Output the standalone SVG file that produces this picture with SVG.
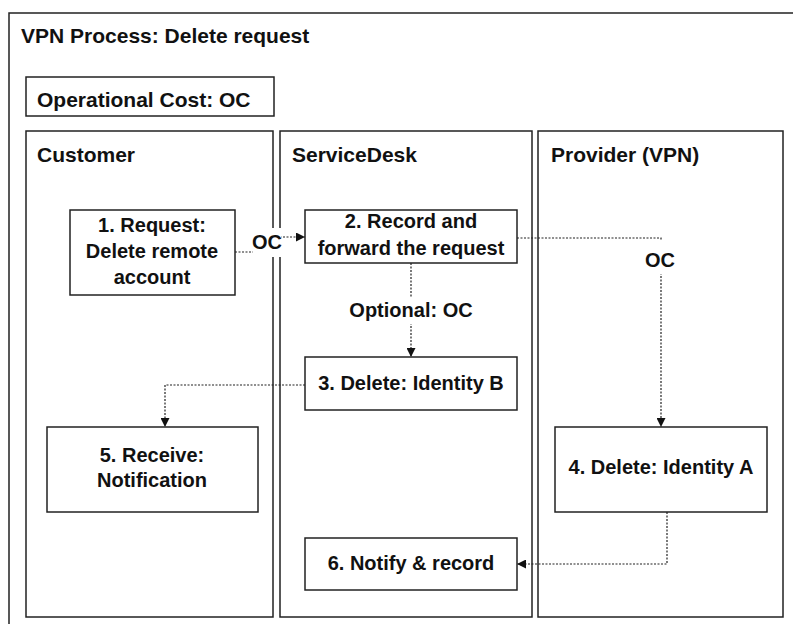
<svg xmlns="http://www.w3.org/2000/svg" width="793" height="624" viewBox="0 0 793 624">
<style>
.frame{fill:none;stroke:#222;stroke-width:1.5}
.box{fill:#fff;stroke:#222;stroke-width:1.5}
.h{font-family:"Liberation Sans",Arial,sans-serif;font-weight:bold;font-size:21px;fill:#111}
.t{font-family:"Liberation Sans",Arial,sans-serif;font-weight:bold;font-size:20px;fill:#111;text-anchor:middle}
.c{fill:none;stroke:#222;stroke-width:1.2;stroke-dasharray:2 1.5}
.bg{fill:#fff;stroke:none}
</style>
<defs>
<marker id="arr" viewBox="0 0 10 10" refX="10" refY="5" markerWidth="9" markerHeight="9" markerUnits="userSpaceOnUse" orient="auto">
<path d="M0,0 L10,5 L0,10 z" fill="#111"/>
</marker>
</defs>
<rect width="793" height="624" fill="#fff"/>
<g id="frame">
<path class="frame" d="M9,624 V13 H793"/>
<text class="h" x="21" y="43">VPN Process: Delete request</text>
</g>
<g id="cost">
<rect class="frame" x="26" y="77" width="248" height="39"/>
<text class="h" x="37" y="107">Operational Cost: OC</text>
</g>
<g id="lane-customer">
<rect class="frame" x="26" y="131" width="247" height="486"/>
<text class="h" x="37" y="162">Customer</text>
</g>
<g id="lane-servicedesk">
<rect class="frame" x="280" y="131" width="252" height="486"/>
<text class="h" x="292" y="162">ServiceDesk</text>
</g>
<g id="lane-provider">
<rect class="frame" x="538" y="131" width="245" height="486"/>
<text class="h" x="551" y="162">Provider (VPN)</text>
</g>
<g id="connectors">
<path class="c" d="M235,252 H267 V237 H305" marker-end="url(#arr)"/>
<path class="c" d="M517,238 H661 V427" marker-end="url(#arr)"/>
<path class="c" d="M411,263 V357" marker-end="url(#arr)"/>
<path class="c" d="M305,385 H165 V427" marker-end="url(#arr)"/>
<path class="c" d="M667,512 V564 H517" marker-end="url(#arr)"/>
<rect class="bg" x="253" y="228" width="28" height="29"/>
<text class="t" x="267" y="249">OC</text>
<rect class="bg" x="644" y="241" width="34" height="33"/>
<text class="t" x="660" y="267">OC</text>
<rect class="bg" x="345" y="298" width="132" height="26"/>
<text class="t" x="411" y="317">Optional: OC</text>
</g>
<g id="n1">
<rect class="box" x="70" y="210" width="165" height="85"/>
<text class="t" x="152" y="232">1. Request:</text>
<text class="t" x="152" y="258">Delete remote</text>
<text class="t" x="152" y="284">account</text>
</g>
<g id="n2">
<rect class="box" x="305" y="210" width="212" height="53"/>
<text class="t" x="411" y="228">2. Record and</text>
<text class="t" x="411" y="255">forward the request</text>
</g>
<g id="n3">
<rect class="box" x="305" y="357" width="212" height="53"/>
<text class="t" x="411" y="390">3. Delete: Identity B</text>
</g>
<g id="n4">
<rect class="box" x="555" y="427" width="212" height="85"/>
<text class="t" x="661" y="474">4. Delete: Identity A</text>
</g>
<g id="n5">
<rect class="box" x="47" y="427" width="211" height="85"/>
<text class="t" x="152" y="462">5. Receive:</text>
<text class="t" x="152" y="487">Notification</text>
</g>
<g id="n6">
<rect class="box" x="305" y="538" width="212" height="52"/>
<text class="t" x="411" y="570">6. Notify &amp; record</text>
</g>
</svg>
